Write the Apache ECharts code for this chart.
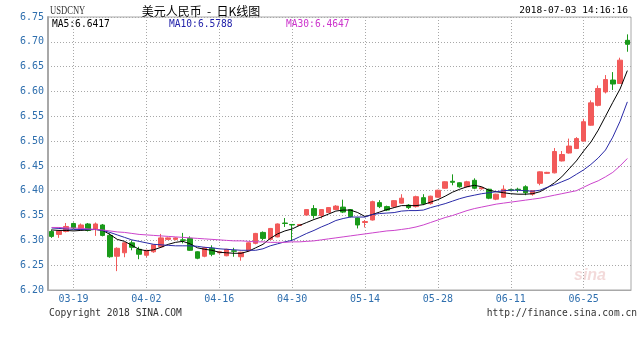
<!DOCTYPE html>
<html>
<head>
<meta charset="utf-8">
<script src="https://cdn.jsdelivr.net/npm/echarts@6/dist/echarts.min.js"></script>
<style>
html,body{margin:0;padding:0;background:#fff;}
#chart{width:640px;height:349px;}
</style>
</head>
<body>
<div id="chart"></div>
<script>
const dates = ['03-14','03-15','03-16','03-19','03-20','03-21','03-22','03-23','03-26','03-27',
'03-28','03-29','03-30','04-02','04-03','04-04','04-05','04-06','04-09','04-10',
'04-11','04-12','04-13','04-16','04-17','04-18','04-19','04-20','04-23','04-24',
'04-25','04-26','04-27','04-30','05-01','05-02','05-03','05-04','05-07','05-08',
'05-09','05-10','05-11','05-14','05-15','05-16','05-17','05-18','05-21','05-22',
'05-23','05-24','05-25','05-28','05-29','05-30','05-31','06-01','06-04','06-05',
'06-06','06-07','06-08','06-11','06-12','06-13','06-14','06-15','06-18','06-19',
'06-20','06-21','06-22','06-25','06-26','06-27','06-28','06-29','07-02','07-03'];

const tickLabels = ['03-19','04-02','04-16','04-30','05-14','05-28','06-11','06-25'];

const openP = [6.318,6.312,6.318,6.334,6.323,6.333,6.322,6.331,6.310,6.268,
6.275,6.295,6.282,6.270,6.277,6.287,6.302,6.302,6.301,6.304,
6.277,6.268,6.284,6.275,6.269,6.279,6.267,6.279,6.294,6.316,
6.302,6.307,6.335,6.332,6.330,6.351,6.364,6.350,6.356,6.362,
6.367,6.362,6.345,6.336,6.341,6.376,6.368,6.368,6.375,6.371,
6.368,6.386,6.374,6.387,6.405,6.419,6.416,6.408,6.421,6.404,
6.403,6.383,6.387,6.402,6.403,6.408,6.393,6.415,6.435,6.436,
6.460,6.476,6.485,6.500,6.532,6.572,6.599,6.623,6.616,6.703];

const closeP = [6.308,6.319,6.328,6.325,6.331,6.320,6.333,6.310,6.267,6.284,
6.295,6.286,6.272,6.280,6.291,6.305,6.305,6.305,6.300,6.280,
6.264,6.285,6.272,6.277,6.282,6.278,6.276,6.295,6.314,6.304,
6.324,6.333,6.334,6.331,6.332,6.362,6.350,6.362,6.366,6.369,
6.357,6.348,6.331,6.338,6.378,6.368,6.361,6.380,6.385,6.366,
6.388,6.374,6.389,6.401,6.418,6.417,6.408,6.418,6.405,6.406,
6.385,6.393,6.403,6.401,6.402,6.396,6.400,6.438,6.437,6.479,
6.473,6.490,6.505,6.539,6.577,6.606,6.624,6.615,6.663,6.695];

const lowP = [6.305,6.305,6.316,6.323,6.320,6.318,6.309,6.308,6.265,6.238,
6.266,6.280,6.262,6.266,6.275,6.286,6.301,6.300,6.294,6.279,
6.262,6.266,6.268,6.273,6.268,6.267,6.259,6.277,6.292,6.300,
6.300,6.306,6.327,6.300,6.329,6.350,6.344,6.344,6.355,6.361,
6.355,6.346,6.324,6.326,6.340,6.365,6.359,6.366,6.374,6.363,
6.366,6.371,6.372,6.386,6.404,6.411,6.406,6.407,6.403,6.402,
6.383,6.381,6.386,6.399,6.397,6.391,6.390,6.411,6.434,6.435,
6.459,6.475,6.484,6.499,6.531,6.570,6.596,6.603,6.615,6.680];

const highP = [6.322,6.321,6.335,6.336,6.334,6.335,6.336,6.333,6.314,6.286,
6.297,6.300,6.287,6.281,6.292,6.313,6.306,6.306,6.315,6.308,
6.278,6.287,6.290,6.279,6.283,6.285,6.277,6.296,6.315,6.318,
6.325,6.334,6.345,6.333,6.333,6.363,6.371,6.363,6.367,6.371,
6.382,6.363,6.346,6.341,6.380,6.381,6.370,6.381,6.393,6.373,
6.390,6.393,6.390,6.402,6.419,6.433,6.417,6.420,6.425,6.408,
6.404,6.394,6.411,6.404,6.406,6.411,6.401,6.439,6.438,6.486,
6.480,6.505,6.508,6.545,6.582,6.612,6.633,6.639,6.668,6.715];

const ma5 = [6.321,6.320,6.320,6.319,6.320,6.321,6.322,6.320,6.312,6.302,
6.298,6.290,6.282,6.279,6.281,6.286,6.292,6.296,6.298,6.293,
6.285,6.282,6.280,6.276,6.275,6.274,6.274,6.278,6.285,6.292,
6.304,6.313,6.319,6.323,6.330,6.336,6.342,6.347,6.353,6.359,
6.361,6.361,6.356,6.348,6.352,6.357,6.362,6.366,6.370,6.370,
6.370,6.372,6.377,6.382,6.389,6.397,6.403,6.408,6.411,6.408,
6.401,6.398,6.396,6.394,6.393,6.393,6.394,6.398,6.406,6.416,
6.428,6.444,6.460,6.480,6.498,6.522,6.550,6.578,6.605,6.642];

const ma10 = [6.325,6.324,6.323,6.322,6.322,6.322,6.322,6.320,6.316,6.311,
6.306,6.301,6.298,6.295,6.292,6.291,6.290,6.289,6.289,6.289,
6.288,6.286,6.285,6.283,6.282,6.281,6.280,6.280,6.280,6.283,
6.289,6.293,6.297,6.300,6.307,6.314,6.320,6.327,6.333,6.340,
6.344,6.347,6.347,6.347,6.352,6.354,6.355,6.356,6.359,6.360,
6.360,6.361,6.366,6.370,6.374,6.379,6.384,6.388,6.391,6.394,
6.396,6.398,6.400,6.401,6.401,6.400,6.399,6.401,6.407,6.412,
6.418,6.424,6.433,6.442,6.453,6.466,6.482,6.508,6.540,6.579];

const ma30 = [6.326,6.326,6.325,6.325,6.324,6.323,6.322,6.321,6.319,6.317,
6.316,6.314,6.312,6.311,6.310,6.309,6.308,6.307,6.306,6.305,
6.304,6.303,6.302,6.301,6.300,6.299,6.299,6.298,6.297,6.297,
6.296,6.296,6.296,6.297,6.297,6.298,6.299,6.301,6.303,6.305,
6.307,6.309,6.311,6.313,6.315,6.317,6.319,6.320,6.322,6.324,
6.327,6.331,6.336,6.341,6.346,6.350,6.355,6.360,6.364,6.367,
6.370,6.373,6.375,6.377,6.379,6.381,6.383,6.385,6.388,6.391,
6.394,6.397,6.400,6.407,6.414,6.420,6.428,6.437,6.450,6.465];

const Y_MIN = 6.20, Y_MAX = 6.75, Y_STEP = 0.05;

const MONO = "'DejaVu Sans Mono', monospace";
const BLUE_TXT = '#2f6fae';
const UP = '#f25a5a', DOWN = '#1a9a1a';

const candles = dates.map((d, i) => [openP[i], closeP[i], lowP[i], highP[i]]);
const isTick = (idx) => tickLabels.indexOf(dates[idx]) >= 0;

const chart = echarts.init(document.getElementById('chart'), null, {renderer: 'canvas'});
chart.setOption({
  animation: false,
  backgroundColor: '#ffffff',
  grid: {left: 48, right: 9, top: 17, bottom: 59, show: true, borderColor: '#a8a8a8', borderWidth: 1},
  xAxis: {
    type: 'category',
    data: dates,
    boundaryGap: true,
    axisLine: {show: true, lineStyle: {color: '#a8a8a8', width: 1}},
    axisTick: {show: false},
    axisLabel: {
      interval: (idx) => isTick(idx),
      color: BLUE_TXT, fontFamily: MONO, fontSize: 10, margin: 4
    },
    splitLine: {
      show: true, alignWithLabel: true,
      interval: (idx) => isTick(idx),
      lineStyle: {color: '#a8a8a8', width: 1, type: [1, 2]}
    }
  },
  yAxis: {
    type: 'value',
    min: Y_MIN, max: Y_MAX, interval: Y_STEP,
    axisLine: {show: true, lineStyle: {color: '#a8a8a8', width: 2}},
    axisTick: {show: false},
    axisLabel: {
      formatter: (v) => v.toFixed(2),
      color: BLUE_TXT, fontFamily: MONO, fontSize: 10, margin: 4
    },
    splitLine: {show: true, lineStyle: {color: '#a8a8a8', width: 1, type: [1, 2]}}
  },
  series: [
    {
      type: 'candlestick',
      data: candles,
      barWidth: 5,
      itemStyle: {color: UP, color0: DOWN, borderColor: UP, borderColor0: DOWN, borderWidth: 1}
    },
    {type: 'line', data: ma5, symbol: 'none', lineStyle: {color: '#000000', width: 1}},
    {type: 'line', data: ma10, symbol: 'none', lineStyle: {color: '#2a2aa8', width: 1}},
    {type: 'line', data: ma30, symbol: 'none', lineStyle: {color: '#cc44cc', width: 1}}
  ],
  graphic: [
    {type: 'text', left: 50, top: 4, scaleX: 0.66, style: {text: 'USDCNY', font: "13px 'Liberation Serif'", fill: '#333'}},
    {type: 'text', x: 201, y: 11, style: {text: '美元人民币  -  日K线图', font: "12px 'Noto Sans CJK SC'", fill: '#000', textAlign: 'center', textVerticalAlign: 'middle'}},
    {type: 'text', x: 628, y: 11, style: {text: '2018-07-03 14:16:16', font: "9.5px 'DejaVu Sans Mono'", fill: '#000', textAlign: 'right', textVerticalAlign: 'middle'}},
    {type: 'text', x: 52, y: 24, style: {text: 'MA5:6.6417', font: "9.6px 'DejaVu Sans Mono'", fill: '#000', textVerticalAlign: 'middle'}},
    {type: 'text', x: 169, y: 24, style: {text: 'MA10:6.5788', font: "9.6px 'DejaVu Sans Mono'", fill: '#2222aa', textVerticalAlign: 'middle'}},
    {type: 'text', x: 286, y: 24, style: {text: 'MA30:6.4647', font: "9.6px 'DejaVu Sans Mono'", fill: '#cc33cc', textVerticalAlign: 'middle'}},
    {type: 'text', x: 49, y: 313, style: {text: 'Copyright 2018 SINA.COM', font: "9.6px 'DejaVu Sans Mono'", fill: '#333', textVerticalAlign: 'middle'}},
    {type: 'text', x: 637, y: 313, style: {text: 'http://finance.sina.com.cn', font: "9.6px 'DejaVu Sans Mono'", fill: '#333', textAlign: 'right', textVerticalAlign: 'middle'}},
    {type: 'text', x: 590, y: 276, style: {text: 'sina', font: "italic bold 16px 'Liberation Sans'", fill: 'rgba(220,150,150,0.35)', textAlign: 'center', textVerticalAlign: 'middle'}}
  ]
});
</script>
</body>
</html>
